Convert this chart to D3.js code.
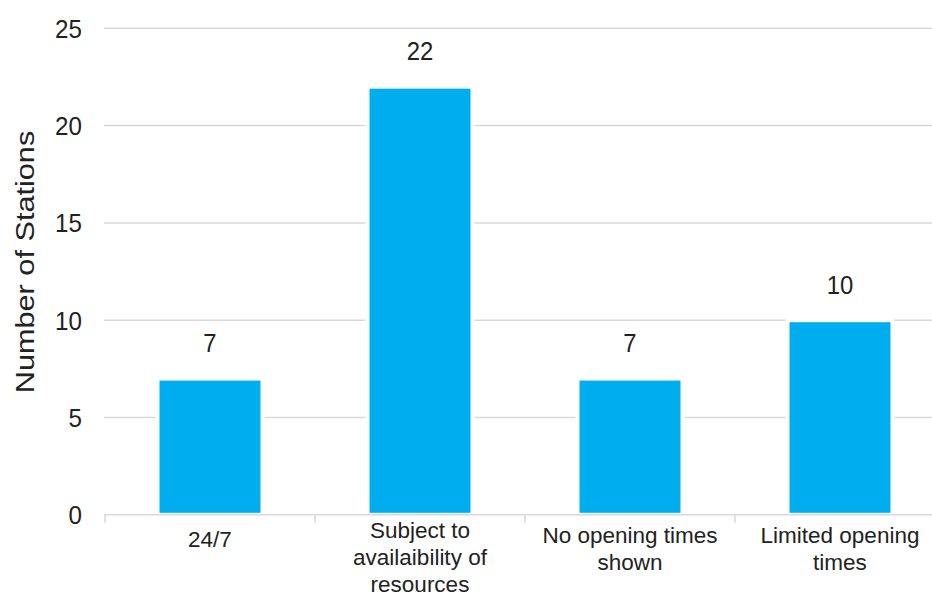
<!DOCTYPE html>
<html>
<head>
<meta charset="utf-8">
<script src="https://cdn.jsdelivr.net/npm/d3@7"></script>
<style>
  html, body { margin: 0; padding: 0; background: #fff; }
  svg { display: block; font-family: "Liberation Sans", Arial, Helvetica, sans-serif; }
</style>
</head>
<body>
<script>
const categories = ["24/7", "Subject to availaibility of resources", "No opening times shown", "Limited opening times"];
const values = [7, 22, 7, 10];
const yTicks = [0, 5, 10, 15, 20, 25];
const yTitle = "Number of Stations";

const W = 932, H = 593;
const svg = d3.select("body").append("svg").attr("width", W).attr("height", H);

const x = d3.scaleBand().domain(categories).range([105, 945]).paddingInner(0.5).paddingOuter(0.25);
const y = d3.scaleLinear().domain([0, 25]).range([514.8, 28.3]);

// gridlines
svg.append("g").selectAll("line").data(yTicks.filter(d => d > 0)).join("line")
  .attr("x1", 104).attr("x2", W)
  .attr("y1", d => y(d)).attr("y2", d => y(d))
  .attr("stroke", "#d9d9d9").attr("stroke-width", 1.5);

// y tick labels
svg.append("g").selectAll("text").data(yTicks).join("text")
  .attr("transform", d => `translate(82,${y(d)}) scale(0.93,1)`)
  .attr("text-anchor", "end").attr("dy", "0.36em")
  .attr("font-size", 26).attr("fill", "#222")
  .text(d => d);

// y title
svg.append("text")
  .attr("transform", "translate(34,262) scale(1,1.18) rotate(-90)")
  .attr("text-anchor", "middle")
  .attr("font-size", 26).attr("fill", "#222")
  .text(yTitle);

// bars
svg.append("g").selectAll("rect").data(values).join("rect")
  .attr("x", (d, i) => x(categories[i]))
  .attr("width", x.bandwidth())
  .attr("y", d => y(d))
  .attr("height", d => y(0) - y(d))
  .attr("fill", "#00aeef")
  .attr("stroke", "#fff").attr("stroke-width", 4);

// x axis line and ticks
const step = x.step();
svg.append("line").attr("x1", 104).attr("x2", W).attr("y1", y(0)).attr("y2", y(0))
  .attr("stroke", "#d9d9d9").attr("stroke-width", 1.5);
svg.append("g").selectAll("line").data(categories).join("line")
  .attr("x1", (d) => x(d) - (step - x.bandwidth()) / 2)
  .attr("x2", (d) => x(d) - (step - x.bandwidth()) / 2)
  .attr("y1", y(0)).attr("y2", y(0) + 8)
  .attr("stroke", "#d9d9d9").attr("stroke-width", 1.5);

// value labels
svg.append("g").selectAll("text").data(values).join("text")
  .attr("transform", (d, i) => `translate(${x(categories[i]) + x.bandwidth() / 2},${y(d) - 26.5}) scale(0.92,1)`)
  .attr("text-anchor", "middle")
  .attr("font-size", 26).attr("fill", "#222")
  .text(d => d);

// category labels with wrapping
const maxW = 185;
const catG = svg.append("g");
categories.forEach((c, i) => {
  const cx = x(c) + x.bandwidth() / 2;
  const t = catG.append("text")
    .attr("text-anchor", "middle").attr("font-size", 22.5).attr("fill", "#222");
  const words = c.split(" ");
  let lines = [];
  let cur = [];
  const probe = t.append("tspan");
  words.forEach(w => {
    const trial = cur.concat([w]).join(" ");
    probe.text(trial);
    if (probe.node().getComputedTextLength() > maxW && cur.length) {
      lines.push(cur.join(" "));
      cur = [w];
    } else {
      cur.push(w);
    }
  });
  if (cur.length) lines.push(cur.join(" "));
  probe.remove();
  const first = 547 - 4.5 * (lines.length - 1);
  lines.forEach((ln, j) => {
    t.append("tspan").attr("x", cx).attr("y", first + j * 27).text(ln);
  });
});
</script>
</body>
</html>
